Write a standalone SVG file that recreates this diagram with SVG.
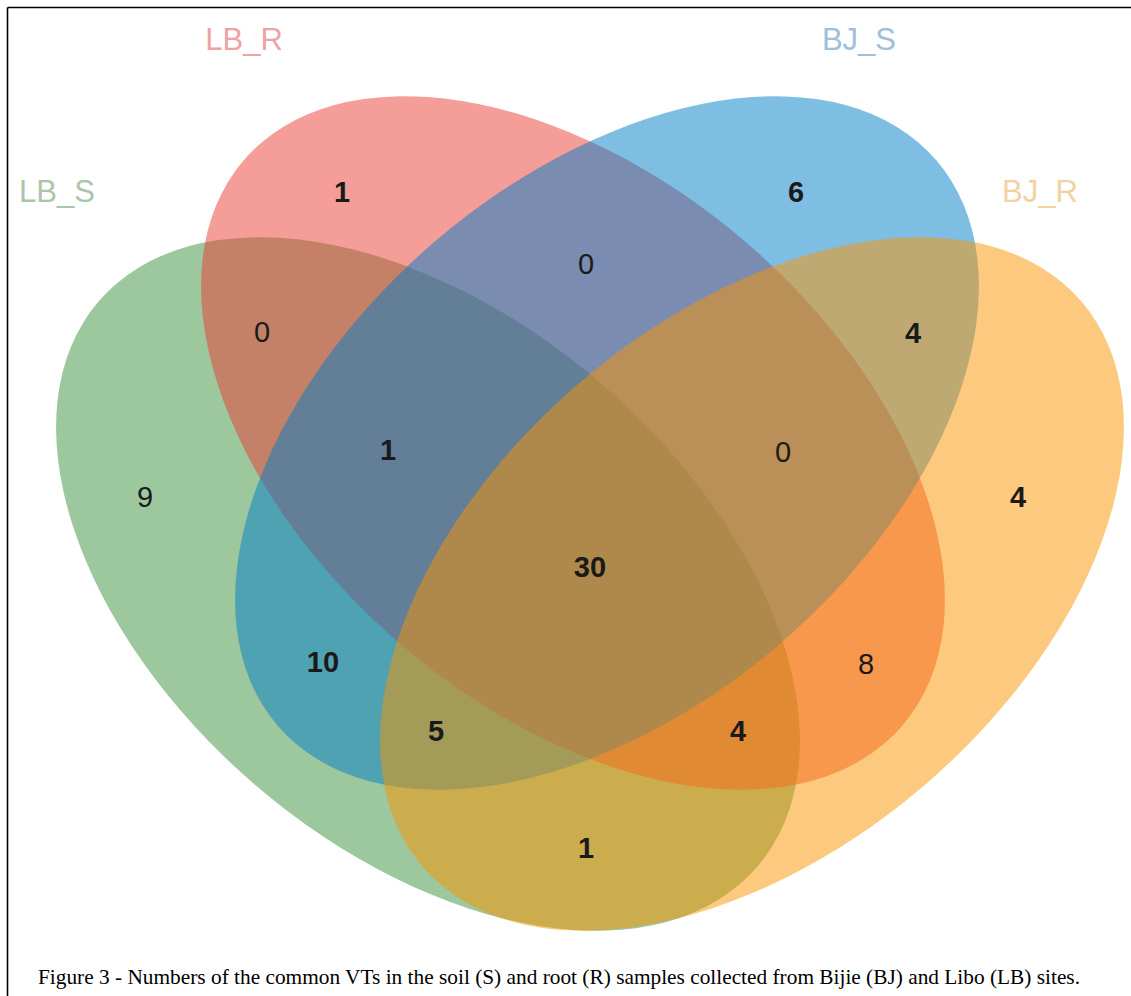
<svg xmlns="http://www.w3.org/2000/svg" width="1131" height="996" viewBox="0 0 1131 996">
<style>
.set{fill-opacity:0.5;stroke:none}
.cat{font-family:"Liberation Sans",Arial,sans-serif;font-size:31px;text-anchor:middle}
.n{font-family:"Liberation Sans",Arial,sans-serif;font-size:29px;text-anchor:middle;fill:#1a1a1a}
.b{font-weight:bold}
.cap{font-family:"Liberation Serif","Times New Roman",serif;font-size:21px;fill:#000}
</style>
<rect x="0" y="0" width="1131" height="996" fill="#ffffff"/>
<g id="frame" stroke="#000" stroke-width="1.6" fill="none">
<line x1="7.5" y1="7.5" x2="1131" y2="7.5"/>
<line x1="7.5" y1="7.5" x2="7.5" y2="996"/>
</g>
<g id="LB_S">
<ellipse class="set" cx="428" cy="584" rx="434" ry="265" transform="rotate(40.6 428 584)" fill="#3b8f3b"/>
<text class="cat" x="57" y="202" fill="#a9c6a9">LB_S</text>
</g>
<g id="LB_R">
<ellipse class="set" cx="573" cy="443" rx="434" ry="265" transform="rotate(40.6 573 443)" fill="#eb3b31"/>
<text class="cat" x="244" y="50" fill="#eda3a3">LB_R</text>
</g>
<g id="BJ_S">
<ellipse class="set" cx="607" cy="443" rx="434" ry="265" transform="rotate(-40.6 607 443)" fill="#007dc7"/>
<text class="cat" x="859" y="50" fill="#9fc0d8">BJ_S</text>
</g>
<g id="BJ_R">
<ellipse class="set" cx="752" cy="584" rx="434" ry="265" transform="rotate(-40.6 752 584)" fill="#fb9300"/>
<text class="cat" x="1040" y="202" fill="#f2d3a0">BJ_R</text>
</g>
<g id="counts">
<text class="n b" x="342" y="202">1</text>
<text class="n b" x="796" y="202">6</text>
<text class="n" x="586" y="274">0</text>
<text class="n" x="262" y="342">0</text>
<text class="n b" x="913" y="343">4</text>
<text class="n b" x="388" y="460">1</text>
<text class="n" x="783" y="462">0</text>
<text class="n" x="145" y="507">9</text>
<text class="n b" x="1018" y="507">4</text>
<text class="n b" x="590" y="577">30</text>
<text class="n b" x="323" y="672">10</text>
<text class="n" x="866" y="674">8</text>
<text class="n b" x="436" y="741">5</text>
<text class="n b" x="738" y="741">4</text>
<text class="n b" x="586" y="858">1</text>
</g>
<g id="caption">
<text class="cap" x="38" y="984" textLength="1042" lengthAdjust="spacingAndGlyphs">Figure 3 - Numbers of the common VTs in the soil (S) and root (R) samples collected from Bijie (BJ) and Libo (LB) sites.</text>
</g>
</svg>
